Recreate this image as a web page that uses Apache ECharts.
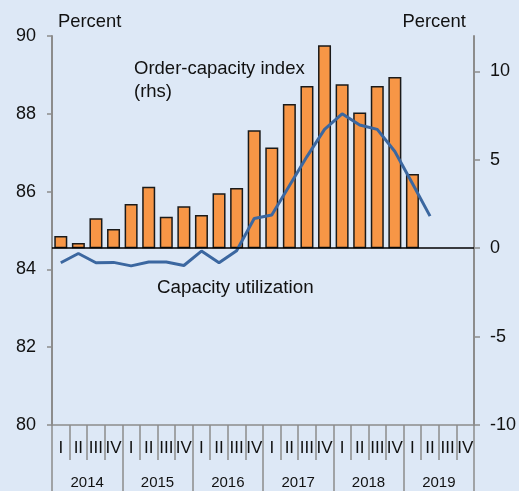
<!DOCTYPE html>
<html>
<head>
<meta charset="utf-8">
<script src="https://cdn.jsdelivr.net/npm/echarts@6/dist/echarts.min.js"></script>
<style>
html,body{margin:0;padding:0;background:#dde8f6;}
#c{width:519px;height:491px;}
</style>
</head>
<body>
<div id="c"></div>
<script>
var quarters = ['I','II','III','IV','I','II','III','IV','I','II','III','IV','I','II','III','IV','I','II','III','IV','I','II','III','IV'];
var years = ['2014','2015','2016','2017','2018','2019'];
// Order-capacity index (rhs), percent
var orderCapacity = [0.69,0.30,1.69,1.09, 2.50,3.47,1.78,2.37, 1.88,3.10,3.40,6.67, 5.70,8.16,9.17,11.48, 9.27,7.67,9.17,9.68, 4.19,null,null,null];
// Capacity utilization (lhs), percent
var capacityUtil = [84.17,84.41,84.17,84.18, 84.09,84.19,84.19,84.10, 84.47,84.17,84.48,85.31, 85.40,86.15,86.90,87.60, 88.00,87.71,87.60,87.03, 86.21,85.37,null,null];
var leftTicks = [80,82,84,86,88,90];
var rightTicks = [-10,-5,0,5,10];

var gray = '#8c8c8c';
var font = 'Liberation Sans, Arial, sans-serif';
var chart = echarts.init(document.getElementById('c'), null, {renderer:'canvas'});
chart.setOption({
  backgroundColor: '#dde8f6',
  animation: false,
  grid: {left: 52, right: 45, top: 36, bottom: 66, containLabel: false},
  xAxis: [
    {type:'category', data: quarters, position:'bottom', boundaryGap:true,
     axisLine:{show:true, onZero:false, lineStyle:{color:gray, width:1.5}},
     axisTick:{show:true, interval:0, length:35, lineStyle:{color:gray, width:1.5}},
     axisLabel:{interval:0, margin:15, fontSize:17, fontFamily:'Liberation Sans Narrow, Arial Narrow, sans-serif', color:'#111'}},
    {type:'category', data: years, position:'bottom', boundaryGap:true,
     axisLine:{show:false, onZero:false},
     axisTick:{show:true, interval:0, length:66, lineStyle:{color:gray, width:1.5}},
     axisLabel:{interval:0, margin:50, fontSize:15, fontFamily:font, color:'#111'}}
  ],
  yAxis: [
    {type:'value', min:80, max:90, interval:2, position:'left',
     axisLine:{show:true, lineStyle:{color:gray, width:2}},
     axisTick:{show:true, length:5, lineStyle:{color:gray, width:1.5}},
     axisLabel:{margin:16, fontSize:18, fontFamily:font, color:'#111'},
     splitLine:{show:false}},
    {type:'value', min:-10, max:12, position:'right',
     axisLine:{show:true, lineStyle:{color:gray, width:2}},
     axisTick:{show:true, length:6, customValues: rightTicks, lineStyle:{color:gray, width:1.5}},
     axisLabel:{margin:16, fontSize:18, fontFamily:font, color:'#111', customValues: rightTicks},
     splitLine:{show:false}}
  ],
  series: [
    {type:'bar', name:'Order-capacity index', xAxisIndex:0, yAxisIndex:1, data: orderCapacity,
     barWidth:13,
     itemStyle:{color:'#f79646', borderColor:'#1a1a1a', borderWidth:1.5},
     markLine:{silent:true, symbol:'none', label:{show:false},
       lineStyle:{color:'#000', width:1.5, type:'solid'},
       data:[{yAxis:0}]}},
    {type:'line', name:'Capacity utilization', xAxisIndex:0, yAxisIndex:0, data: capacityUtil,
     symbol:'none', lineStyle:{color:'#3b67a0', width:3}, itemStyle:{color:'#3b67a0'}}
  ],
  graphic: [
    {type:'text', left:58, top:13, style:{text:'Percent', font:'18.4px '+font, fill:'#111'}},
    {type:'text', left:402.5, top:13, style:{text:'Percent', font:'18.4px '+font, fill:'#111'}},
    {type:'text', left:134, top:58, style:{text:'Order-capacity index\n(rhs)', font:'18.5px '+font, fill:'#111', lineHeight:22.5}},
    {type:'text', left:157, top:278, style:{text:'Capacity utilization', font:'18.8px '+font, fill:'#111'}}
  ]
});
</script>
</body>
</html>
